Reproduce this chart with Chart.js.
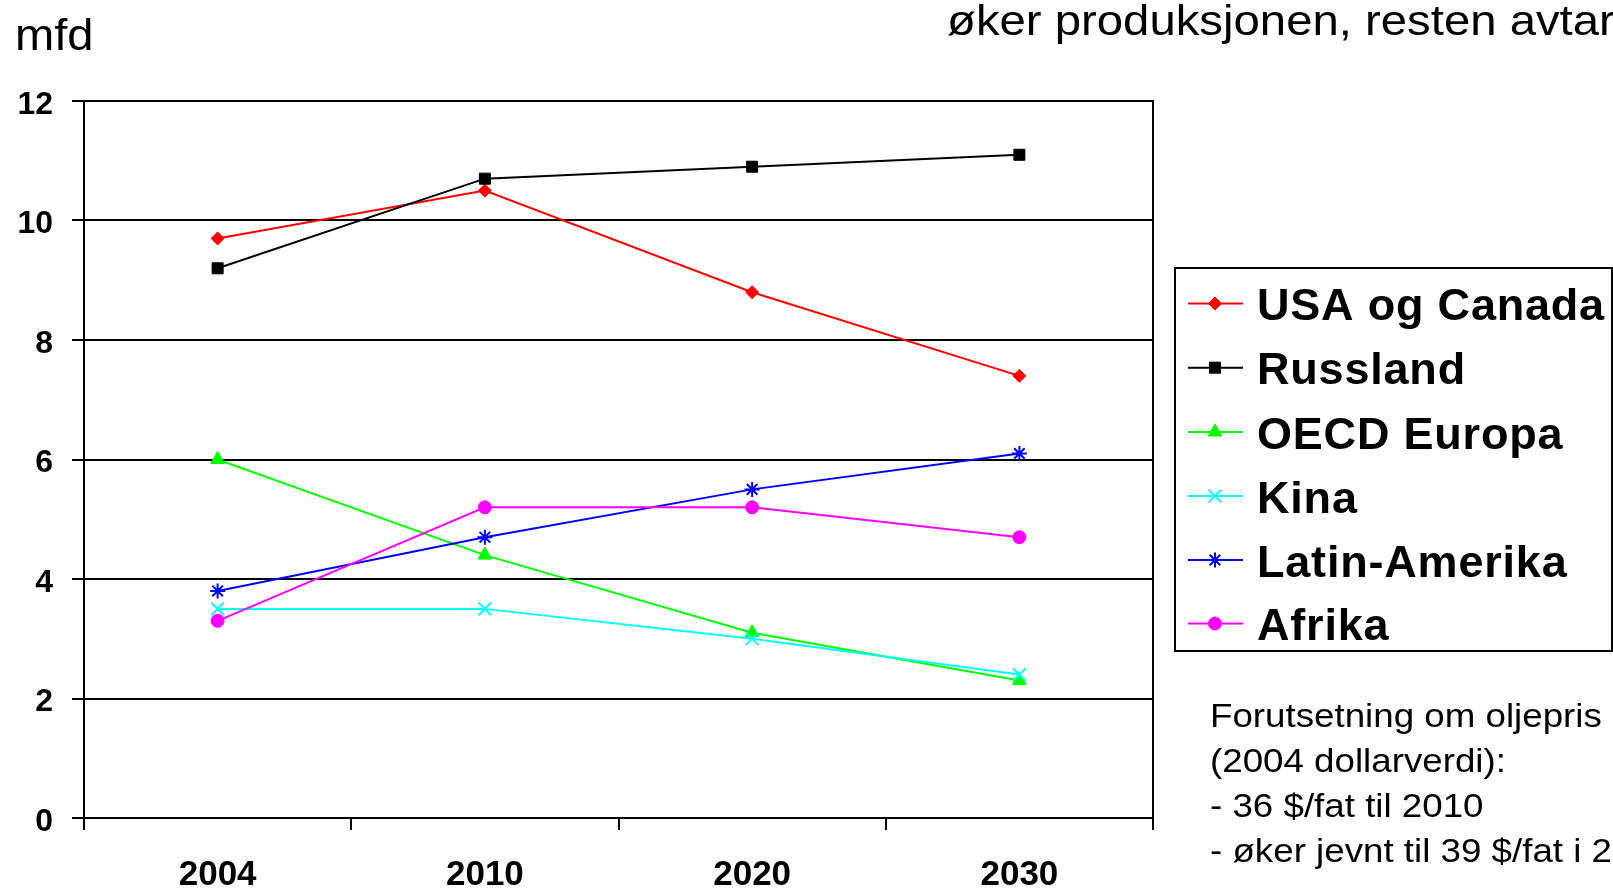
<!DOCTYPE html>
<html>
<head>
<meta charset="utf-8">
<script src="https://cdn.jsdelivr.net/npm/chart.js@4"></script>
<style>
  html, body { margin: 0; padding: 0; background: #fff; }
  canvas { display: block; }
</style>
</head>
<body>
<canvas id="c" width="1613" height="890"></canvas>
<script>
// ---- data ----
const categories = ['2004', '2010', '2020', '2030'];
const seriesNames = ['USA og Canada', 'Russland', 'OECD Europa', 'Kina', 'Latin-Amerika', 'Afrika'];
const usaCanada    = [9.7, 10.5, 8.8, 7.4];
const russland     = [9.2, 10.7, 10.9, 11.1];
const oecdEuropa   = [6.0, 4.4, 3.1, 2.3];
const kina         = [3.5, 3.5, 3.0, 2.4];
const latinAmerika = [3.8, 4.7, 5.5, 6.1];
const afrika       = [3.3, 5.2, 5.2, 4.7];
const yMin = 0, yMax = 12, yStep = 2;
const unitLabel = 'mfd';
const titleText = 'øker produksjonen, resten avtar';
const noteLines = ['Forutsetning om oljepris', '(2004 dollarverdi):', '- 36 $/fat til 2010', '- øker jevnt til 39 $/fat i 2030'];

// ---- styles ----
const seriesValues = [usaCanada, russland, oecdEuropa, kina, latinAmerika, afrika];
const seriesColors = ['#FF0000', '#000000', '#00FF00', '#00FFFF', '#0000FF', '#FF00FF'];
const seriesPoints = ['rectRot', 'rect', 'triangle', 'crossRot', 'star', 'circle'];
const seriesRadius = [6.5, 7.8, 8, 9, 7.5, 6.5];
const FONT = "'Liberation Sans', Arial, Helvetica, sans-serif";

const datasets = seriesNames.map((name, i) => ({
  label: name,
  data: seriesValues[i],
  borderColor: seriesColors[i],
  backgroundColor: seriesColors[i],
  pointBackgroundColor: seriesColors[i],
  pointBorderColor: seriesColors[i],
  pointStyle: seriesPoints[i],
  pointRadius: seriesRadius[i],
  pointHoverRadius: seriesRadius[i],
  pointBorderWidth: (seriesPoints[i] === 'crossRot' || seriesPoints[i] === 'star') ? 2 : 1,
  borderWidth: 2,
  tension: 0,
  fill: false,
  order: seriesNames.length - i
}));

function drawText(ctx, str, x, y, font, hscale, spacing) {
  ctx.save();
  ctx.font = font;
  ctx.fillStyle = '#000';
  ctx.textAlign = 'left';
  ctx.textBaseline = 'alphabetic';
  if (spacing) ctx.letterSpacing = spacing;
  ctx.translate(x, y);
  ctx.scale(hscale, 1);
  ctx.fillText(str, 0, 0);
  ctx.restore();
}

const decorPlugin = {
  id: 'decor',
  afterDraw(chart) {
    const ctx = chart.ctx;
    // unit label & title
    drawText(ctx, unitLabel, 15, 50, `44px ${FONT}`, 1.07);
    drawText(ctx, titleText, 947, 35, `43px ${FONT}`, 1.1);

    // legend box
    const lx = 1175, ly = 268, lw = 437, lh = 383;
    ctx.save();
    ctx.strokeStyle = '#000';
    ctx.lineWidth = 2;
    ctx.strokeRect(lx, ly, lw, lh);
    ctx.restore();
    const rowY = [303.5, 367.7, 432, 496, 560, 623.5];
    chart.data.datasets.forEach((ds, i) => {
      const y = rowY[i];
      ctx.save();
      ctx.strokeStyle = ds.borderColor;
      ctx.lineWidth = 2;
      ctx.beginPath();
      ctx.moveTo(1188, y);
      ctx.lineTo(1243, y);
      ctx.stroke();
      ctx.fillStyle = ds.pointBackgroundColor;
      ctx.strokeStyle = ds.pointBorderColor;
      ctx.lineWidth = ds.pointBorderWidth;
      Chart.helpers.drawPoint(ctx, {
        pointStyle: ds.pointStyle,
        radius: ds.pointRadius,
        rotation: 0,
        borderWidth: ds.pointBorderWidth
      }, 1215, y);
      ctx.restore();
      drawText(ctx, ds.label, 1257, y + 16.5, `bold 45px ${FONT}`, 1, '0.8px');
    });

    // note text
    const baselines = [727, 772, 817, 862];
    noteLines.forEach((t, i) => drawText(ctx, t, 1210, baselines[i], `34px ${FONT}`, 1.08));
  }
};

new Chart(document.getElementById('c'), {
  type: 'line',
  data: { labels: categories, datasets },
  plugins: [decorPlugin],
  options: {
    responsive: false,
    devicePixelRatio: 1,
    animation: false,
    layout: { padding: { top: 101, right: 460, left: 0, bottom: 0 } },
    plugins: { legend: { display: false }, tooltip: { enabled: false }, title: { display: false } },
    scales: {
      x: {
        type: 'category',
        offset: true,
        afterFit(scale) { scale.height = 72; },
        grid: {
          offset: true,
          drawOnChartArea: false,
          drawTicks: true,
          tickLength: 12,
          color: '#000',
          lineWidth: 2
        },
        border: { display: true, color: '#000', width: 2 },
        ticks: {
          color: '#000',
          font: { family: FONT, size: 35, weight: 'bold' },
          padding: 24,
          maxRotation: 0,
          autoSkip: false
        }
      },
      y: {
        min: yMin,
        max: yMax,
        afterFit(scale) { scale.width = 84; },
        grid: {
          drawOnChartArea: true,
          drawTicks: true,
          tickLength: 12,
          color: '#000',
          lineWidth: 2
        },
        border: { display: true, color: '#000', width: 2 },
        ticks: {
          stepSize: yStep,
          color: '#000',
          font: { family: FONT, size: 32, weight: 'bold' },
          padding: 19,
          labelOffset: 4
        }
      },
      yRight: {
        position: 'right',
        min: yMin,
        max: yMax,
        afterFit(scale) { scale.width = 0; },
        grid: { display: false },
        border: { display: true, color: '#000', width: 2 },
        ticks: { display: false }
      }
    }
  }
});
</script>
</body>
</html>
